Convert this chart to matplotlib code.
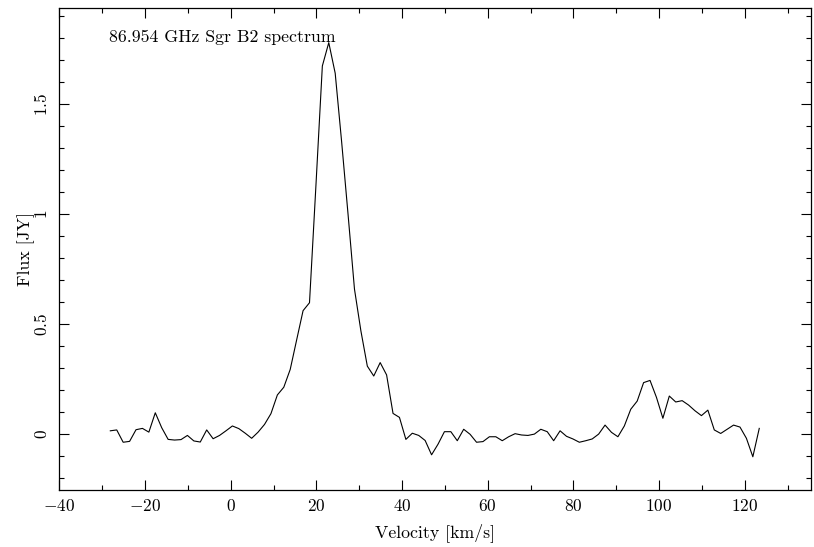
import matplotlib
matplotlib.use('Agg')
import matplotlib.pyplot as plt
from matplotlib.ticker import MultipleLocator, FuncFormatter

plt.rcParams['font.family'] = 'serif'
plt.rcParams['font.serif'] = ['cmr10']
plt.rcParams['mathtext.fontset'] = 'cm'
plt.rcParams['axes.formatter.use_mathtext'] = True

# channel velocities [km/s]
velocity = [-28.1, -26.6, -25.1, -23.6, -22.1, -20.6, -19.1, -17.6, -16.1, -14.6,
            -13.1, -11.6, -10.1, -8.6, -7.1, -5.6, -4.1, -2.6, -1.1, 0.4,
            1.9, 3.4, 4.9, 6.4, 7.9, 9.4, 10.9, 12.4, 13.9, 15.4,
            16.9, 18.4, 19.9, 21.4, 22.9, 24.4, 25.9, 27.4, 28.9, 30.4,
            31.9, 33.4, 34.9, 36.4, 37.9, 39.4, 40.9, 42.4, 43.9, 45.4,
            46.9, 48.4, 49.9, 51.4, 52.9, 54.4, 55.9, 57.4, 58.9, 60.4,
            61.9, 63.4, 64.9, 66.4, 67.9, 69.4, 70.9, 72.4, 73.9, 75.4,
            76.9, 78.4, 79.9, 81.4, 82.9, 84.4, 85.9, 87.4, 88.9, 90.4,
            91.9, 93.4, 94.9, 96.4, 97.9, 99.4, 100.9, 102.4, 103.9, 105.4,
            106.9, 108.4, 109.9, 111.4, 112.9, 114.4, 115.9, 117.4, 118.9, 120.4,
            121.9, 123.4]
# flux [Jy]
flux = [0.016, 0.020, -0.036, -0.032, 0.021, 0.027, 0.010, 0.098, 0.030, -0.023,
        -0.026, -0.024, -0.005, -0.030, -0.035, 0.020, -0.020, -0.005, 0.016, 0.038,
        0.026, 0.005, -0.018, 0.010, 0.045, 0.094, 0.179, 0.214, 0.295, 0.429,
        0.562, 0.598, 1.13, 1.674, 1.78, 1.641, 1.33, 1.00, 0.66, 0.47,
        0.31, 0.265, 0.326, 0.27, 0.095, 0.077, -0.023, 0.005, -0.005, -0.028,
        -0.093, -0.045, 0.012, 0.012, -0.029, 0.023, 0.0, -0.036, -0.033, -0.011,
        -0.011, -0.029, -0.011, 0.003, -0.003, -0.005, 0.001, 0.023, 0.012, -0.029,
        0.016, -0.009, -0.021, -0.036, -0.029, -0.021, 0.001, 0.042, 0.009, -0.011,
        0.038, 0.114, 0.151, 0.235, 0.245, 0.168, 0.073, 0.174, 0.147, 0.153,
        0.133, 0.107, 0.085, 0.110, 0.020, 0.004, 0.023, 0.042, 0.033, -0.018,
        -0.102, 0.027]

fig = plt.figure(figsize=(8.14, 5.47), dpi=100)
ax = fig.add_axes([0.0729, 0.1042, 0.9230, 0.8806])
ax.plot(velocity, flux, color='black', lw=0.8)
ax.set_xlim(-40, 135.4)
ax.set_ylim(-0.253, 1.936)

ax.xaxis.set_major_locator(MultipleLocator(20))
ax.xaxis.set_minor_locator(MultipleLocator(10))
ax.yaxis.set_major_locator(MultipleLocator(0.5))
ax.yaxis.set_minor_locator(MultipleLocator(0.1))
fmt = FuncFormatter(lambda v, p: '$%g$' % round(v, 3))
ax.xaxis.set_major_formatter(fmt)
ax.yaxis.set_major_formatter(fmt)
ax.tick_params(which='both', direction='in', top=True, right=True, labelsize=12.5, width=0.8)
ax.tick_params(which='major', length=7)
ax.tick_params(which='minor', length=3.5)
ax.tick_params(axis='x', pad=6)
ax.tick_params(axis='y', pad=7)
for lab in ax.get_yticklabels():
    lab.set_rotation(90)
    lab.set_va('center')
for s in ax.spines.values():
    s.set_linewidth(0.9)

ax.set_xlabel('Velocity [km/s]', fontsize=12.8, labelpad=6)
ax.set_ylabel('Flux [JY]', fontsize=12.8, labelpad=-2)
ax.text(-28.3, 1.785, '86.954 GHz Sgr B2 spectrum', fontsize=12.8)

fig.savefig('out.png', dpi=100)
